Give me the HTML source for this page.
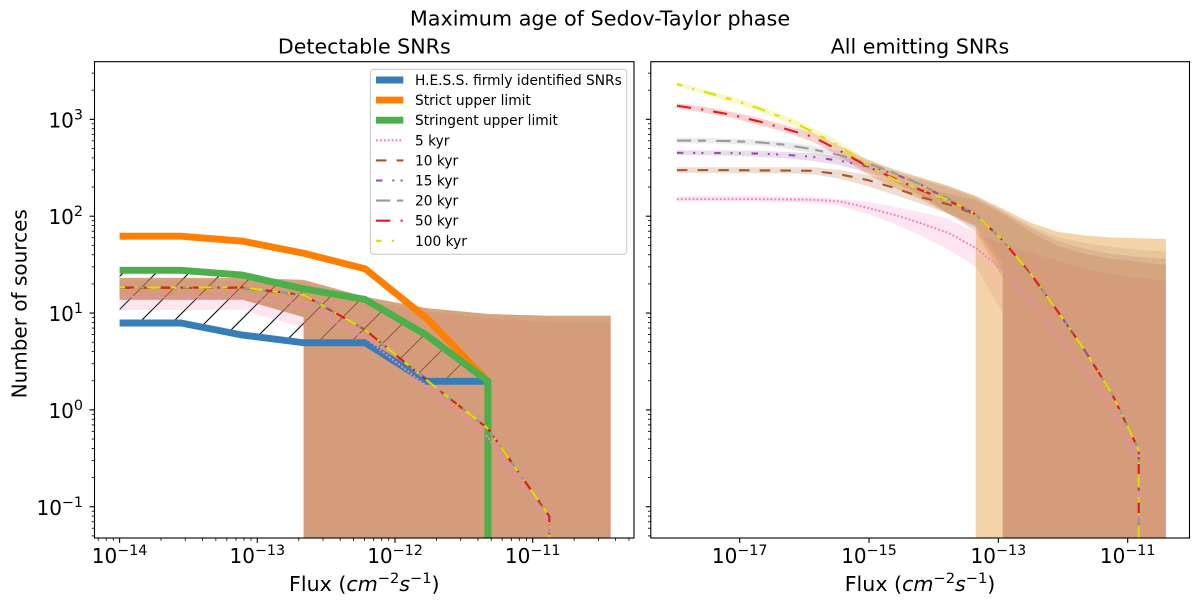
<!DOCTYPE html>
<html lang="en">
<head>
<meta charset="utf-8">
<title>Maximum age of Sedov-Taylor phase</title>
<style>
html,body{margin:0;padding:0;background:#fff;width:1200px;height:606px;overflow:hidden;}
svg{display:block;font-family:"DejaVu Sans","Liberation Sans",sans-serif;fill:#000;overflow:hidden;}
</style>
</head>
<body>
<svg id="fig" xmlns="http://www.w3.org/2000/svg" width="1200" height="606" viewBox="0 0 1200 606">
  <defs>
    <clipPath id="clip-left"><rect x="94.5" y="61.7" width="539.5" height="476.3"/></clipPath>
    <clipPath id="clip-right"><rect x="650.8" y="61.7" width="538.7" height="476.3"/></clipPath>
    <pattern id="hatch" patternUnits="userSpaceOnUse" width="33" height="33">
      <path d="M-3 36L36 -3M-6 6L6 -6M27 39L39 27" stroke="#000" stroke-width="1.05" fill="none"/>
    </pattern>
  </defs>
  <rect x="0" y="0" width="1200" height="606" fill="#fff"/>
  <text x="600" y="25.5" font-size="20.75" text-anchor="middle">Maximum age of Sedov-Taylor phase</text>
  <text x="364.3" y="53.5" font-size="20.6" text-anchor="middle">Detectable SNRs</text>
  <text x="920" y="53.5" font-size="20.6" text-anchor="middle">All emitting SNRs</text>

  <g id="left-plot" clip-path="url(#clip-left)"></g>
  <g id="right-plot" clip-path="url(#clip-right)"></g>
  <g id="left-axes"></g>
  <g id="right-axes"></g>

  <rect x="94.5" y="61.7" width="539.5" height="476.3" fill="none" stroke="#000" stroke-width="1.1"/>
  <rect x="650.8" y="61.7" width="538.7" height="476.3" fill="none" stroke="#000" stroke-width="1.1"/>

  <text transform="translate(26.5,303.8) rotate(-90)" font-size="20" text-anchor="middle">Number of sources</text>
  <text x="364.3" y="591" font-size="20.6" text-anchor="middle">Flux (<tspan font-style="italic">cm</tspan><tspan dy="-8" font-size="14.6">−2</tspan><tspan dy="8" font-style="italic">s</tspan><tspan dy="-8" font-size="14.6">−1</tspan><tspan dy="8">)</tspan></text>
  <text x="920" y="591" font-size="20.6" text-anchor="middle">Flux (<tspan font-style="italic">cm</tspan><tspan dy="-8" font-size="14.6">−2</tspan><tspan dy="8" font-style="italic">s</tspan><tspan dy="-8" font-size="14.6">−1</tspan><tspan dy="8">)</tspan></text>

  <g font-size="13.75">
    <rect x="370.5" y="69.3" width="256.2" height="185" rx="3" fill="#fff" fill-opacity="0.8" stroke="#ccc" stroke-width="1.1"/>
    <g><line x1="376" x2="403.3" y1="80" y2="80" stroke="#377eb8" stroke-width="6.9"/><text x="415" y="85">H.E.S.S. firmly identified SNRs</text></g>
    <g><line x1="376" x2="403.3" y1="100.1" y2="100.1" stroke="#ff7f00" stroke-width="6.9"/><text x="415" y="105.1">Strict upper limit</text></g>
    <g><line x1="376" x2="403.3" y1="120.2" y2="120.2" stroke="#4daf4a" stroke-width="6.9"/><text x="415" y="125.2">Stringent upper limit</text></g>
    <g><line x1="376" x2="403.3" y1="140.3" y2="140.3" stroke="#f781bf" stroke-width="2.08" stroke-dasharray="1.9 2"/><text x="415" y="145.3">5 kyr</text></g>
    <g><line x1="376" x2="403.3" y1="160.4" y2="160.4" stroke="#a65628" stroke-width="2.08" stroke-dasharray="10.5 10.2"/><text x="415" y="165.4">10 kyr</text></g>
    <g><line x1="376" x2="403.3" y1="180.5" y2="180.5" stroke="#984ea3" stroke-width="2.08" stroke-dasharray="6.5 9.8 2 6.3 2 10.7"/><text x="415" y="185.5">15 kyr</text></g>
    <g><line x1="376" x2="403.3" y1="200.6" y2="200.6" stroke="#999999" stroke-width="2.08" stroke-dasharray="14.3 6.7 8 10.3"/><text x="415" y="205.6">20 kyr</text></g>
    <g><line x1="376" x2="403.3" y1="220.7" y2="220.7" stroke="#e41a1c" stroke-width="2.08" stroke-dasharray="14.3 10.3 2 10"/><text x="415" y="225.7">50 kyr</text></g>
    <g><line x1="376" x2="403.3" y1="240.8" y2="240.8" stroke="#dede00" stroke-width="2.08" stroke-dasharray="5.5 10.5 2 10 13 10"/><text x="415" y="245.8">100 kyr</text></g>
  </g>
</svg>
<script>
// ---------- left panel data ----------
const leftFlux = [1e-14,2.79e-14,7.8e-14,2.17e-13,6.07e-13,1.69e-12,4.73e-12,1.32e-11,3.68e-11];
const hessValues = [8,8,6,5,5,2,2,0,0];
const strictValues = [63,63,56,42,29,9,2,0,0];
const stringentValues = [28,28,25,18,14,6,2,0,0];

const left5 = [14.9,14.9,14.9,12.3,5.6,1.8,0.53,0.07,0];
const left10 = [18.4,18.4,18.4,15.5,6.8,2.05,0.65,0.081,0];
const left15 = [18.5,18.5,18.5,15.6,6.8,2.06,0.65,0.081,0];
const left20 = [18.6,18.6,18.6,15.6,6.8,2.06,0.65,0.081,0];
const left50 = [18.6,18.6,18.6,15.6,6.8,2.06,0.65,0.081,0];
const left100 = [18.6,18.6,18.6,15.6,6.8,2.06,0.65,0.081,0];

const leftUpper5 = [22,22,22,21,13.5,10.5,9,8.2,8.1];
const leftLower5 = [10.9,10.9,10.9,7.1,0,0,0,0,0];
const leftUpper10 = [23.4,23.4,23.4,22.3,14.9,11.4,9.9,9.5,9.5];
const leftLower10 = [13.9,13.9,13.9,9.2,0,0,0,0,0];
const leftUpper15 = [23.4,23.4,23.4,22.3,14.9,11.4,9.9,9.5,9.5];
const leftLower15 = [13.9,13.9,13.9,9.2,0,0,0,0,0];
const leftUpper20 = [23.4,23.4,23.4,22.3,14.9,11.4,9.9,9.5,9.5];
const leftLower20 = [13.9,13.9,13.9,9.2,0,0,0,0,0];
const leftUpper50 = [23.4,23.4,23.4,22.3,14.9,11.4,9.9,9.5,9.5];
const leftLower50 = [13.9,13.9,13.9,9.2,0,0,0,0,0];
const leftUpper100 = [23.4,23.4,23.4,22.3,14.9,11.4,9.9,9.5,9.5];
const leftLower100 = [13.9,13.9,13.9,9.2,0,0,0,0,0];

// ---------- right panel data ----------
const rightFlux = [1.07e-18,2.82e-18,7.41e-18,1.95e-17,5.13e-17,1.35e-16,3.55e-16,9.33e-16,2.45e-15,6.46e-15,1.70e-14,4.47e-14,1.17e-13,3.09e-13,8.13e-13,2.14e-12,5.62e-12,1.48e-11,3.89e-11];

const right5 = [152,152,152,152,151,150,144,124,105,85.5,68,47.7,28.3,13.5,5.74,2.5,1.06,0.308,0];
const right10 = [303,303,303,301,300,298,274,240,199,159,134,106,56.8,26.3,10.7,4.22,1.52,0.391,0];
const right15 = [457,455,454,449,436,416,378,332,277,214,150,106,56.8,26.3,10.7,4.22,1.52,0.391,0];
const right20 = [612,610,604,587,553,497,431,360,284,214,153,106,56.8,26.3,10.7,4.22,1.52,0.391,0];
const right50 = [1399,1271,1130,967,809,668,480,332,249,187,146,106,56.8,26.3,10.7,4.22,1.52,0.391,0];
const right100 = [2344,1950,1633,1318,1026,754,533,344,243,190,148,106,56.8,26.3,10.7,4.22,1.52,0.391,0];

const rightUpper5 = [162,162,162,162,162,161,151,143,127,111,95,68.7,52.5,43.4,35,29,25.4,23.4,21.9];
const rightLower5 = [143,143,143,143,143,139,130,107,84.5,63.5,45.5,30.6,10.2,0,0,0,0,0,0];
const rightUpper10 = [324,324,324,324,324,324,305,271,235,199,173,150,107,69.8,50,41.4,36.7,34.2,31.8];
const rightLower10 = [284,284,284,281,281,274,247,208,168,136,107,69.8,23.4,0,0,0,0,0,0];
const rightUpper15 = [485,485,482,480,468,452,416,360,284,240,199,156,112,76.8,56.4,46.6,41.4,38.5,36.7];
const rightLower15 = [431,431,426,416,401,378,340,288,229,164,107,76.8,28.3,0,0,0,0,0,0];
const rightUpper20 = [653,653,641,623,594,540,480,385,300,252,208,164,115,80.5,62,53.7,48.9,45.5,43.7];
const rightLower20 = [573,573,566,547,509,452,387,313,235,168,110,82.4,34.2,0,0,0,0,0,0];
const rightUpper50 = [1484,1365,1213,1052,879,736,540,392,309,252,208,164,121,87,70,64,61,60,59];
const rightLower50 = [1318,1184,1052,889,745,594,416,277,199,150,107,80.5,0,0,0,0,0,0,0];
const rightUpper100 = [2457,2070,1754,1415,1115,829,594,396,301,252,208,164,121,87,70,64,61,60,59];
const rightLower100 = [2234,1838,1520,1227,944,685,474,291,199,150,107,80.5,0,0,0,0,0,0,0];

// ---------- tick labels ----------
const leftXTickExponents = [-14,-13,-12,-11];
const rightXTickExponents = [-17,-15,-13,-11];
const yTickExponents = [-1,0,1,2,3];

// ---------- axis functions ----------
const NS = 'http://www.w3.org/2000/svg';
const belowAxisY = 545;
function yScale(v){ return 409.9 - 96.85*Math.log10(v) + 0.55; }
function yTickScale(v){ return 409.9 - 96.85*Math.log10(v); }
function xLeft(v){ return 532.7 + 137.7*(Math.log10(v)+11); }
function xRight(v){ return 1127.7 + 64.67*(Math.log10(v)+11); }

// A zero on a log axis falls straight down from the previous positive sample.
function vertex(xs, ys, i, xf){
  if (ys[i] > 0) return [xf(xs[i]), yScale(ys[i])];
  if (i > 0 && ys[i-1] > 0) return [xf(xs[i-1]), belowAxisY];
  return [xf(xs[i]), belowAxisY];
}
function fmt(p){ return p[0].toFixed(2) + ' ' + p[1].toFixed(2); }
function pathFrom(xs, ys, xf){
  let d = '';
  for (let i=0;i<xs.length;i++){
    d += (i?'L':'M') + fmt(vertex(xs, ys, i, xf));
    if (!(ys[i] > 0)) break;
  }
  return d;
}
function bandFrom(xs, up, lo, xf){
  let d = '';
  for (let i=0;i<xs.length;i++){
    d += (i?'L':'M') + fmt(vertex(xs, up, i, xf));
  }
  for (let i=xs.length-1;i>=0;i--){
    d += 'L' + fmt(vertex(xs, lo, i, xf));
  }
  return d + 'Z';
}

const colors = {k5:'#f781bf',k10:'#a65628',k15:'#984ea3',k20:'#999999',k50:'#e41a1c',k100:'#dede00'};
const dashes = {k5:'1.9 2',k10:'10.5 10.2',k15:'6.5 9.8 2 6.3 2 10.7',k20:'14.3 6.7 8 10.3',k50:'14.3 10.3 2 10',k100:'5.5 10.5 2 10 13 10'};

const leftSeries = [
  {key:'k5',label:'5-kyr',v:left5,u:leftUpper5,l:leftLower5},
  {key:'k10',label:'10-kyr',v:left10,u:leftUpper10,l:leftLower10},
  {key:'k15',label:'15-kyr',v:left15,u:leftUpper15,l:leftLower15},
  {key:'k20',label:'20-kyr',v:left20,u:leftUpper20,l:leftLower20},
  {key:'k50',label:'50-kyr',v:left50,u:leftUpper50,l:leftLower50},
  {key:'k100',label:'100-kyr',v:left100,u:leftUpper100,l:leftLower100}
];
const rightSeries = [
  {key:'k5',label:'5-kyr',v:right5,u:rightUpper5,l:rightLower5},
  {key:'k10',label:'10-kyr',v:right10,u:rightUpper10,l:rightLower10},
  {key:'k15',label:'15-kyr',v:right15,u:rightUpper15,l:rightLower15},
  {key:'k20',label:'20-kyr',v:right20,u:rightUpper20,l:rightLower20},
  {key:'k50',label:'50-kyr',v:right50,u:rightUpper50,l:rightLower50},
  {key:'k100',label:'100-kyr',v:right100,u:rightUpper100,l:rightLower100}
];

function drawBands(parent, series, xs, xf, side){
  series.forEach(function(s){
    const el = document.createElementNS(NS,'path');
    
    
    el.setAttribute('d', bandFrom(xs, s.u, s.l, xf));
    el.setAttribute('fill', colors[s.key]);
    el.setAttribute('fill-opacity', '0.2');
    parent.appendChild(el);
  });
}
function drawLines(parent, series, xs, xf, side){
  series.forEach(function(s){
    const el = document.createElementNS(NS,'path');
    
    
    el.setAttribute('d', pathFrom(xs, s.v, xf));
    el.setAttribute('fill', 'none');
    el.setAttribute('stroke', colors[s.key]);
    el.setAttribute('stroke-width', '2.08');
    el.setAttribute('stroke-dasharray', dashes[s.key]);
    el.setAttribute('stroke-linejoin', 'round');
    parent.appendChild(el);
  });
}
function drawThick(parent, name, values, color){
  const el = document.createElementNS(NS,'path');
  
  
  el.setAttribute('d', pathFrom(leftFlux, values, xLeft));
  el.setAttribute('fill', 'none');
  el.setAttribute('stroke', color);
  el.setAttribute('stroke-width', '6.9');
  el.setAttribute('stroke-linejoin', 'round');
  el.setAttribute('stroke-linecap', 'butt');
  parent.appendChild(el);
}
function tick(parent, x1, y1, x2, y2, width){
  const el = document.createElementNS(NS,'line');
  
  
  el.setAttribute('x1', x1);
  el.setAttribute('y1', y1);
  el.setAttribute('x2', x2);
  el.setAttribute('y2', y2);
  el.setAttribute('stroke', '#000');
  el.setAttribute('stroke-width', width);
  parent.appendChild(el);
}
function tickLabel(parent, x, y, exponent, anchor){
  const el = document.createElementNS(NS,'text');
  
  
  el.setAttribute('x', x);
  el.setAttribute('y', y);
  el.setAttribute('font-size', '20');
  el.setAttribute('text-anchor', anchor);
  el.appendChild(document.createTextNode('10'));
  const sup = document.createElementNS(NS,'tspan');
  sup.setAttribute('dy', '-8');
  sup.setAttribute('font-size', '14.3');
  sup.textContent = String(exponent).replace('-', '\u2212');
  el.appendChild(sup);
  parent.appendChild(el);
}
function drawYAxis(parent, spineX, labelled){
  for (let e=-2;e<=3;e++){
    for (let m=1;m<=9;m++){
      const v = m*Math.pow(10,e);
      const y = yTickScale(v);
      if (y<61.7 || y>538) continue;
      if (m===1){
        tick(parent, spineX-4.9, y, spineX, y, 1.1);
      } else {
        tick(parent, spineX-2.8, y, spineX, y, 0.85);
      }
    }
  }
  if (labelled){
    yTickExponents.forEach(function(e){
      tickLabel(parent, 83, yTickScale(Math.pow(10,e))+8, e, 'end');
    });
  }
}

// ---------- left panel ----------
const leftPlot = document.getElementById('left-plot');
const hatchArea = document.createElementNS(NS,'path');


hatchArea.setAttribute('d', bandFrom(leftFlux, stringentValues, hessValues, xLeft));
hatchArea.setAttribute('fill', 'url(#hatch)');
leftPlot.appendChild(hatchArea);

drawBands(leftPlot, leftSeries, leftFlux, xLeft, 'left');
drawThick(leftPlot, 'hess-line', hessValues, '#377eb8');
drawThick(leftPlot, 'strict-limit-line', strictValues, '#ff7f00');
drawThick(leftPlot, 'stringent-limit-line', stringentValues, '#4daf4a');
drawLines(leftPlot, leftSeries, leftFlux, xLeft, 'left');

// ---------- right panel ----------
const rightPlot = document.getElementById('right-plot');
drawBands(rightPlot, rightSeries, rightFlux, xRight, 'right');
drawLines(rightPlot, rightSeries, rightFlux, xRight, 'right');

// ---------- axes ----------
const leftAxes = document.getElementById('left-axes');
const rightAxes = document.getElementById('right-axes');
drawYAxis(leftAxes, 94.5, true);
drawYAxis(rightAxes, 650.8, false);

for (let e=-15;e<=-11;e++){
  for (let m=1;m<=9;m++){
    const x = xLeft(m*Math.pow(10,e));
    if (x<94.5 || x>634) continue;
    if (m===1){
      tick(leftAxes, x, 538, x, 542.9, 1.1);
    } else {
      tick(leftAxes, x, 538, x, 540.8, 0.85);
    }
  }
}
leftXTickExponents.forEach(function(e){
  tickLabel(leftAxes, xLeft(Math.pow(10,e)), 563, e, 'middle');
});
rightXTickExponents.forEach(function(e){
  const x = xRight(Math.pow(10,e));
  tick(rightAxes, x, 538, x, 542.9, 1.1);
  tickLabel(rightAxes, x, 563, e, 'middle');
});
</script>
</body>
</html>
